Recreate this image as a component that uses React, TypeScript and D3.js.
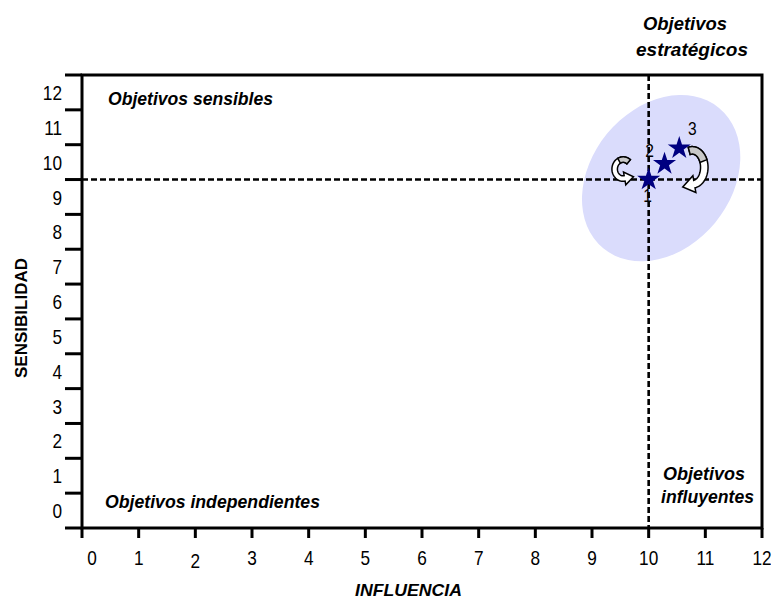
import React from "react";
import * as d3 from "d3";

const xTicks = [0, 1, 2, 3, 4, 5, 6, 7, 8, 9, 10, 11, 12];
const yTicks = [0, 1, 2, 3, 4, 5, 6, 7, 8, 9, 10, 11, 12];
const pointLabels = ["1", "2", "3"];
const pointX = [10.0, 10.28, 10.54];
const pointY = [10.0, 10.45, 10.9];
const thresholdX = 10;
const thresholdY = 10;
const quadrantLabels = [
  "Objetivos sensibles",
  "Objetivos independientes",
  "Objetivos",
  "estratégicos",
  "Objetivos",
  "influyentes",
];

const W = 771;
const H = 601;
const FONT = "'Liberation Sans', Arial, sans-serif";

function curvedArrow(
  cx: number, cy: number, rx: number, ry: number,
  a0: number, a1: number, w: number, headLen: number, headW: number,
  frac = 1
) {
  const n = 40;
  const rad = (d: number) => (d * Math.PI) / 180;
  const end = a0 + (a1 - a0) * frac;
  const outer: [number, number][] = [];
  const inner: [number, number][] = [];
  for (let i = 0; i <= n; i++) {
    const t = rad(a0 + ((end - a0) * i) / n);
    outer.push([cx + (rx + w / 2) * Math.cos(t), cy + (ry + w / 2) * Math.sin(t)]);
    inner.push([cx + (rx - w / 2) * Math.cos(t), cy + (ry - w / 2) * Math.sin(t)]);
  }
  const pts: [number, number][] = [...outer];
  if (frac >= 1) {
    const t = rad(a1);
    const s = Math.sign(a1 - a0);
    let tx = -rx * Math.sin(t) * s;
    let ty = ry * Math.cos(t) * s;
    const L = Math.hypot(tx, ty);
    tx /= L; ty /= L;
    const mx = cx + rx * Math.cos(t);
    const my = cy + ry * Math.sin(t);
    const ox = Math.cos(t), oy = Math.sin(t);
    pts.push([mx + ox * headW, my + oy * headW]);
    pts.push([mx + tx * headLen, my + ty * headLen]);
    pts.push([mx - ox * headW, my - oy * headW]);
  }
  pts.push(...inner.reverse());
  return d3.line()(pts) + "Z";
}

// narrow digits: horizontal compression around anchor point
function NText(props: { x: number; y: number; anchor?: string; size?: number; dy?: string; children: any }) {
  const { x, y, anchor = "middle", size = 21, dy, children } = props;
  return (
    <text transform={`translate(${x},${y}) scale(0.82,1)`} textAnchor={anchor} dy={dy}
      fontFamily={FONT} fontSize={size} fill="#000">{children}</text>
  );
}

export default function App() {
  const x = d3.scaleLinear().domain([0, 12]).range([82, 762]);
  const y = d3.scaleLinear().domain([0, 13]).range([528, 75]);
  const star = d3.symbol().type(d3.symbolStar).size(165)();

  const ecx = x(10.22), ecy = y(10.04);
  const lax = x(9.55), lay = y(10.3);
  const rax = x(10.77), ray = y(10.35);

  const qText = (s: string, tx: number, ty: number, len: number, key: string) => (
    <text key={key} x={tx} y={ty} textLength={len} lengthAdjust="spacingAndGlyphs">{s}</text>
  );

  return (
    <svg width={W} height={H} style={{ position: "absolute", left: 0, top: 0, background: "#fff" }}>
      {/* ellipse highlight */}
      <ellipse cx={ecx} cy={ecy} rx={70} ry={91} fill="#dadcfc"
        transform={`rotate(39.5 ${ecx} ${ecy})`} />

      {/* dashed threshold lines */}
      <line x1={x(thresholdX)} x2={x(thresholdX)} y1={y(13)} y2={y(0)} stroke="#000" strokeWidth={2.6} strokeDasharray="6,3" />
      <line x1={x(0)} x2={x(12)} y1={y(thresholdY)} y2={y(thresholdY)} stroke="#000" strokeWidth={2.6} strokeDasharray="6,3" />

      {/* frame */}
      <rect x={x(0)} y={y(13)} width={x(12) - x(0)} height={y(0) - y(13)} fill="none" stroke="#000" strokeWidth={3} />
      {d3.range(0, 14).map((i) => (
        <line key={"yt" + i} x1={65} x2={x(0)} y1={y(i)} y2={y(i)} stroke="#000" strokeWidth={3} />
      ))}
      {xTicks.map((v) => (
        <line key={"xt" + v} x1={x(v)} x2={x(v)} y1={y(0)} y2={y(0) + 10} stroke="#000" strokeWidth={3} />
      ))}

      {/* tick labels */}
      {xTicks.map((v) => (
        <NText key={"xl" + v} x={x(v) + (v === 0 ? 10 : 0)} y={565 + (v === 2 ? 3 : 0)}>{v}</NText>
      ))}
      {yTicks.map((v) => (
        <NText key={"yl" + v} x={62} y={y(v + 0.5)} dy="0.36em" anchor="end">{v}</NText>
      ))}

      {/* axis titles */}
      <text x={355} y={596} textLength={107} lengthAdjust="spacingAndGlyphs" fontFamily={FONT} fontSize={17} fontWeight="bold" fontStyle="italic">INFLUENCIA</text>
      <text transform={`translate(27,378) rotate(-90)`} textLength={120} lengthAdjust="spacingAndGlyphs" fontFamily={FONT} fontSize={17} fontWeight="bold">SENSIBILIDAD</text>

      {/* quadrant labels */}
      <g fontFamily={FONT} fontSize={19} fontWeight="bold" fontStyle="italic" fill="#000">
        {qText(quadrantLabels[0], 108, 105, 165, "q0")}
        {qText(quadrantLabels[1], 105, 508, 215, "q1")}
        {qText(quadrantLabels[2], 643, 30, 84, "q2")}
        {qText(quadrantLabels[3], 636, 56, 112, "q3")}
        {qText(quadrantLabels[4], 663, 480, 82, "q4")}
        {qText(quadrantLabels[5], 661, 503, 93, "q5")}
      </g>

      {/* curved arrows */}
      <path d={curvedArrow(lax, lay, 8.5, 9.5, -50, -280, 5.5, 9, 6.5)} fill="#fff" stroke="#000" strokeWidth={1.5} />
      <path d={curvedArrow(lax, lay, 8.5, 9.5, -50, -280, 5.5, 9, 6.5, 0.3)} fill="#c8c8c8" stroke="#000" strokeWidth={1.5} />
      <path d={curvedArrow(rax, ray, 12, 17, -105, 80, 7.5, 12, 8.5)} fill="#fff" stroke="#000" strokeWidth={1.5} />
      <path d={curvedArrow(rax, ray, 12, 17, -105, 80, 7.5, 12, 8.5, 0.45)} fill="#c8c8c8" stroke="#000" strokeWidth={1.5} />

      {/* stars */}
      {pointX.map((px, i) => (
        <path key={"s" + i} d={star} transform={`translate(${x(px)},${y(pointY[i])})`} fill="#000080" />
      ))}
      {pointLabels.map((lab, i) => {
        const off = i === 0 ? [-1, 22] : i === 1 ? [-15, -7] : [13, -13];
        return (
          <NText key={"pl" + i} x={x(pointX[i]) + off[0]} y={y(pointY[i]) + off[1]} size={19}>{lab}</NText>
        );
      })}
    </svg>
  );
}
